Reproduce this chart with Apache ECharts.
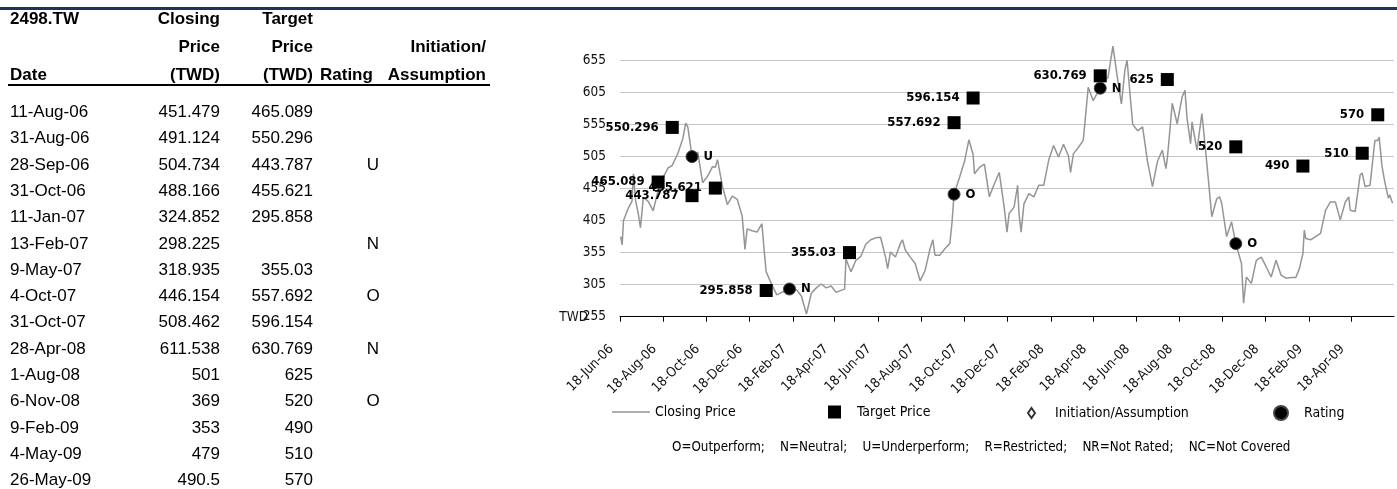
<!DOCTYPE html>
<html>
<head>
<meta charset="utf-8">
<title>2498.TW</title>
<script src="https://cdn.jsdelivr.net/npm/echarts@6.0.0/dist/echarts.min.js"></script>
<style>
html, body { margin: 0; padding: 0; background: #fff; }
#wrap { position: relative; width: 1397px; height: 489px; overflow: hidden; }
#chart { position: absolute; left: 0; top: 0; width: 1397px; height: 489px; }
#table { position: absolute; left: 0; top: 0; width: 540px; height: 489px; font-family: "Liberation Sans", Arial, sans-serif; font-size: 17px; color: #000; }
.cell { position: absolute; white-space: nowrap; line-height: 20px; height: 20px; }
.hd { font-weight: bold; }
.rule { position: absolute; left: 8px; width: 482px; top: 84px; height: 2px; background: #000; }
</style>
</head>
<body>
<div id="wrap">
  <div id="chart"></div>
  <div id="table"></div>
</div>
<script>
// rating / target events (table on the left + markers)
const eventDates = ['2006-08-11', '2006-08-31', '2006-09-28', '2006-10-31', '2007-01-11', '2007-02-13', '2007-05-09', '2007-10-04',
  '2007-10-31', '2008-04-28', '2008-08-01', '2008-11-06', '2009-02-09', '2009-05-04', '2009-05-26'];
const eventClose = [451.479, 491.124, 504.734, 488.166, 324.852, 298.225, 318.935, 446.154,
  508.462, 611.538, 501, 369, 353, 479, 490.5];
const eventTarget = [465.089, 550.296, 443.787, 455.621, 295.858, null, 355.03, 557.692,
  596.154, 630.769, 625, 520, 490, 510, 570];
const eventRating = ['', '', 'U', '', '', 'N', '', 'O', '', 'N', '', 'O', '', '', ''];

// closing price
const closeDates = [
  '2006-06-19', '2006-06-21', '2006-06-23', '2006-06-30', '2006-07-05', '2006-07-07', '2006-07-10', '2006-07-14', '2006-07-17', '2006-07-21',
  '2006-07-28', '2006-08-04', '2006-08-11', '2006-08-18', '2006-08-25', '2006-08-31', '2006-09-08', '2006-09-15', '2006-09-19', '2006-09-22',
  '2006-09-28', '2006-10-06', '2006-10-13', '2006-10-20', '2006-10-27', '2006-10-31', '2006-11-03', '2006-11-10', '2006-11-17', '2006-11-24',
  '2006-12-01', '2006-12-08', '2006-12-12', '2006-12-15', '2006-12-22', '2006-12-29', '2007-01-05', '2007-01-08', '2007-01-11', '2007-01-19',
  '2007-01-26', '2007-02-02', '2007-02-09', '2007-02-13', '2007-02-23', '2007-03-02', '2007-03-09', '2007-03-16', '2007-03-23', '2007-03-30',
  '2007-04-06', '2007-04-13', '2007-04-20', '2007-04-27', '2007-05-02', '2007-05-04', '2007-05-11', '2007-05-18', '2007-05-25', '2007-06-01',
  '2007-06-08', '2007-06-15', '2007-06-22', '2007-06-29', '2007-07-02', '2007-07-06', '2007-07-13', '2007-07-20', '2007-07-23', '2007-07-27',
  '2007-08-03', '2007-08-10', '2007-08-17', '2007-08-24', '2007-08-31', '2007-09-04', '2007-09-07', '2007-09-14', '2007-09-21', '2007-09-28',
  '2007-10-01', '2007-10-04', '2007-10-12', '2007-10-19', '2007-10-25', '2007-10-31', '2007-11-02', '2007-11-09', '2007-11-16', '2007-11-23',
  '2007-11-30', '2007-12-07', '2007-12-14', '2007-12-18', '2007-12-21', '2007-12-28', '2008-01-02', '2008-01-04', '2008-01-07', '2008-01-11',
  '2008-01-18', '2008-01-25', '2008-02-01', '2008-02-08', '2008-02-15', '2008-02-22', '2008-02-29', '2008-03-07', '2008-03-14', '2008-03-17',
  '2008-03-21', '2008-03-28', '2008-04-04', '2008-04-11', '2008-04-18', '2008-04-28', '2008-05-02', '2008-05-09', '2008-05-16', '2008-05-23',
  '2008-05-28', '2008-06-02', '2008-06-05', '2008-06-13', '2008-06-20', '2008-06-27', '2008-07-04', '2008-07-11', '2008-07-18', '2008-07-25',
  '2008-07-30', '2008-08-01', '2008-08-08', '2008-08-15', '2008-08-22', '2008-08-26', '2008-08-29', '2008-09-03', '2008-09-05', '2008-09-12',
  '2008-09-19', '2008-09-26', '2008-10-03', '2008-10-10', '2008-10-14', '2008-10-17', '2008-10-24', '2008-10-31', '2008-11-06', '2008-11-14',
  '2008-11-17', '2008-11-21', '2008-11-28', '2008-12-05', '2008-12-12', '2008-12-19', '2008-12-26', '2009-01-02', '2009-01-09', '2009-01-16',
  '2009-01-23', '2009-01-30', '2009-02-04', '2009-02-09', '2009-02-11', '2009-02-13', '2009-02-20', '2009-02-27', '2009-03-06', '2009-03-13',
  '2009-03-20', '2009-03-27', '2009-04-03', '2009-04-10', '2009-04-15', '2009-04-17', '2009-04-24', '2009-05-01', '2009-05-04', '2009-05-08',
  '2009-05-15', '2009-05-22', '2009-05-26', '2009-05-28', '2009-06-01', '2009-06-05', '2009-06-10', '2009-06-12', '2009-06-16'
];
const closeValues = [
  380, 367, 405, 425, 435, 478, 437, 415, 394, 441,
  435, 420, 452, 472, 487, 491, 510, 533, 557, 551,
  505, 512, 464, 474, 489, 488, 500, 459, 430, 443,
  438, 412, 360, 392, 389, 387, 400, 360, 325, 305,
  289, 293, 295, 298, 297, 287, 259, 292, 300, 306,
  300, 303, 293, 296, 298, 345, 325, 343, 349, 368,
  375, 378, 379, 348, 330, 356, 348, 369, 375, 359,
  348, 338, 311, 327, 361, 375, 351, 351, 361, 369,
  400, 446, 473, 498, 531, 508, 478, 488, 493, 442,
  462, 480, 426, 387, 416, 426, 460, 416, 387, 431,
  447, 442, 460, 460, 499, 522, 504, 524, 506, 480,
  509, 519, 530, 613, 592, 612, 623, 628, 677, 623,
  587, 640, 655, 555, 545, 551, 497, 458, 497, 515,
  486, 501, 588, 556, 598, 608, 564, 525, 559, 515,
  572, 494, 411, 439, 442, 432, 380, 403, 369, 338,
  276, 317, 307, 343, 348, 333, 317, 343, 320, 315,
  316, 316, 330, 353, 390, 377, 375, 380, 385, 421,
  434, 434, 406, 434, 442, 421, 419, 476, 479, 458,
  460, 530, 530, 535, 490, 465, 440, 445, 432
];

const tickDates = ['2006-06-18', '2006-08-18', '2006-10-18', '2006-12-18', '2007-02-18', '2007-04-18', '2007-06-18', '2007-08-18', '2007-10-18',
  '2007-12-18', '2008-02-18', '2008-04-18', '2008-06-18', '2008-08-18', '2008-10-18', '2008-12-18', '2009-02-18', '2009-04-18'];

const footnote = 'O=Outperform;    N=Neutral;    U=Underperform;    R=Restricted;    NR=Not Rated;    NC=Not Covered';

const MON = ['Jan', 'Feb', 'Mar', 'Apr', 'May', 'Jun', 'Jul', 'Aug', 'Sep', 'Oct', 'Nov', 'Dec'];
const narrow = '"Liberation Sans Narrow", "Arial Narrow", "DejaVu Sans Condensed", sans-serif';

function toTime(s) {
  const p = s.split('-');
  return new Date(+p[0], +p[1] - 1, +p[2]).getTime();
}
function fmtDate(v) {
  const d = new Date(v);
  return d.getDate() + '-' + MON[d.getMonth()] + '-' + String(d.getFullYear()).slice(2);
}

// ---- table ----
const tbl = document.getElementById('table');
function cell(text, x, y, align, bold) {
  const el = document.createElement('div');
  el.className = 'cell' + (bold ? ' hd' : '');
  el.textContent = text;
  el.style.top = (y - 10) + 'px';
  if (align === 'right') el.style.right = (540 - x) + 'px';
  else if (align === 'center') { el.style.left = (x - 20) + 'px'; el.style.width = '40px'; el.style.textAlign = 'center'; }
  else el.style.left = x + 'px';
  tbl.appendChild(el);
}
cell('2498.TW', 10, 19, 'left', true);
cell('Closing', 220, 19, 'right', true);
cell('Target', 313, 19, 'right', true);
cell('Price', 220, 47, 'right', true);
cell('Price', 313, 47, 'right', true);
cell('Initiation/', 486, 47, 'right', true);
cell('Date', 10, 75, 'left', true);
cell('(TWD)', 220, 75, 'right', true);
cell('(TWD)', 313, 75, 'right', true);
cell('Rating', 320, 75, 'left', true);
cell('Assumption', 486, 75, 'right', true);
const rule = document.createElement('div');
rule.className = 'rule';
tbl.appendChild(rule);
eventDates.forEach((d, i) => {
  const y = 112 + i * 26.3;
  cell(fmtDate(toTime(d)), 10, y, 'left');
  cell(String(eventClose[i]), 220, y, 'right');
  if (eventTarget[i] != null) cell(String(eventTarget[i]), 313, y, 'right');
  if (eventRating[i]) cell(eventRating[i], 373, y, 'center');
});

// ---- chart ----
const closeData = closeDates.map((d, i) => [toTime(d), closeValues[i]]);
const targetData = [];
const ratingData = [];
eventDates.forEach((d, i) => {
  if (eventTarget[i] != null) targetData.push([toTime(d), eventTarget[i]]);
  if (eventRating[i]) ratingData.push([toTime(d), eventClose[i], eventRating[i]]);
});
const ticks = tickDates.map(toTime);

const legendText = { fontSize: 14, fontFamily: narrow, color: '#000' };

const chart = echarts.init(document.getElementById('chart'));
chart.setOption({
  animation: false,
  grid: { left: 620, right: 3, top: 60.3, bottom: 172.3, containLabel: false, outerBoundsMode: 'none' },
  xAxis: {
    type: 'value',
    min: toTime('2006-06-18'),
    max: toTime('2009-06-18'),
    axisLine: { lineStyle: { color: '#000', width: 1 } },
    axisTick: { show: true, customValues: ticks, length: 5, lineStyle: { color: '#000' } },
    axisLabel: {
      customValues: ticks, rotate: 45, margin: 22, padding: [0, 12, 0, 0], hideOverlap: false,
      formatter: v => fmtDate(v), fontSize: 13.5, fontFamily: narrow, color: '#111'
    },
    splitLine: { show: false }
  },
  yAxis: {
    type: 'value', min: 255, max: 655, interval: 50,
    axisLine: { show: false }, axisTick: { show: false },
    axisLabel: { margin: 14, fontSize: 13.5, fontFamily: narrow, color: '#111' },
    splitLine: { lineStyle: { color: '#c6c6c6', width: 1 } }
  },
  legend: [
    { data: [{ name: 'Closing Price', icon: 'path://M0 0M38 14M0 6.2H38V7.8H0Z' }], left: 612, top: 405, padding: 0,
      itemWidth: 38, itemHeight: 14, textStyle: legendText },
    { data: ['Target Price'], left: 828, top: 405, padding: 0, itemWidth: 13, itemHeight: 13,
      textStyle: Object.assign({ padding: [0, 0, 0, 11] }, legendText) },
    { data: ['Initiation/Assumption'], left: 1027, top: 406, padding: 0, itemWidth: 7, itemHeight: 10,
      textStyle: Object.assign({ padding: [0, 0, 0, 15] }, legendText) },
    { data: ['Rating'], left: 1273, top: 405, padding: 0, itemWidth: 14, itemHeight: 14,
      textStyle: Object.assign({ padding: [0, 0, 0, 11] }, legendText) }
  ],
  graphic: [
    { type: 'rect', left: 0, top: 7, shape: { width: 1397, height: 3 }, style: { fill: '#1b365d' } },
    { type: 'text', x: 588, y: 317, style: { text: 'TWD', font: '13.5px ' + narrow, fill: '#111', align: 'right', verticalAlign: 'middle' } },
    { type: 'text', left: 672, top: 441, style: { text: footnote, font: '13.3px ' + narrow, fill: '#000' } }
  ],
  series: [
    {
      name: 'Closing Price', type: 'line', data: closeData, symbol: 'none', showSymbol: false,
      lineStyle: { color: '#959595', width: 1.5 }, itemStyle: { color: '#959595' }, clip: false, z: 2
    },
    {
      name: 'Target Price', type: 'scatter', data: targetData, symbol: 'rect', symbolSize: 13,
      itemStyle: { color: '#000', opacity: 1 }, clip: false, z: 3,
      label: { show: true, position: 'left', distance: 7, formatter: p => String(p.value[1]),
        fontSize: 13, fontWeight: 'bold', fontFamily: narrow, color: '#000' }
    },
    {
      name: 'Initiation/Assumption', type: 'scatter', data: [], symbol: 'diamond', symbolSize: [7, 10],
      itemStyle: { color: '#fff', borderColor: '#333', borderWidth: 1.5, opacity: 1 }
    },
    {
      name: 'Rating', type: 'scatter', data: ratingData, symbol: 'circle', symbolSize: 12,
      itemStyle: { color: '#000', borderColor: '#444', borderWidth: 1, opacity: 1 }, clip: false, z: 4,
      label: { show: true, position: 'right', distance: 5, formatter: p => p.value[2],
        fontSize: 13, fontWeight: 'bold', fontFamily: narrow, color: '#000' }
    }
  ]
});
</script>
</body>
</html>
